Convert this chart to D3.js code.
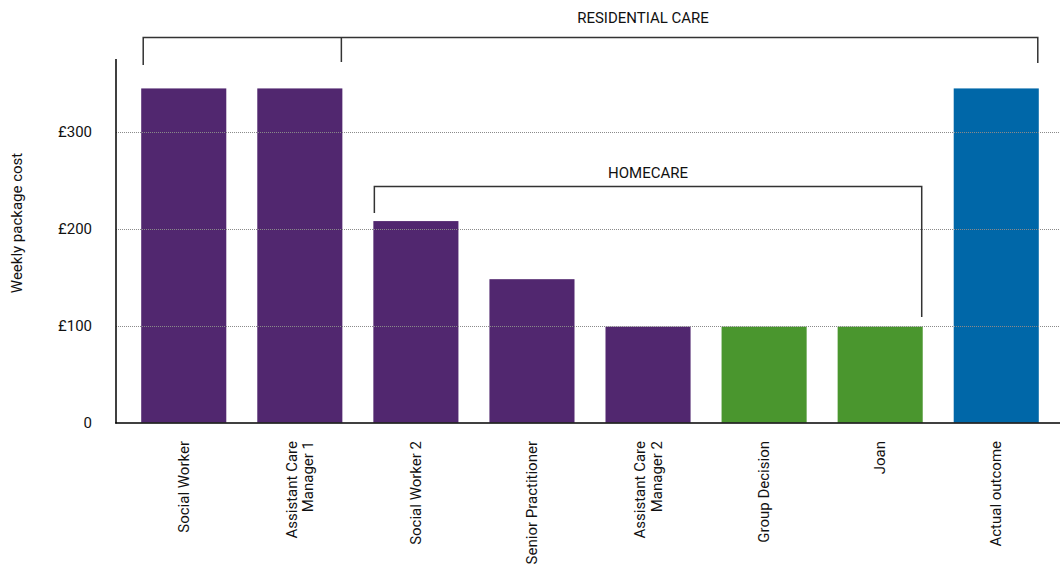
<!DOCTYPE html>
<html>
<head>
<meta charset="utf-8">
<script src="https://cdn.jsdelivr.net/npm/d3@7"></script>
<style>
  body { margin: 0; background: #fff; }
  svg text { font-family: Roboto, "Noto Sans", sans-serif; fill: #111; }
</style>
</head>
<body>
<div id="chart"></div>
<script>
// data
const categories = ["Social Worker", "Assistant Care Manager 1", "Social Worker 2", "Senior Practitioner",
  "Assistant Care Manager 2", "Group Decision", "Joan", "Actual outcome"];
const labelLines = [["Social Worker"], ["Assistant Care", "Manager 1"], ["Social Worker 2"], ["Senior Practitioner"],
  ["Assistant Care", "Manager 2"], ["Group Decision"], ["Joan"], ["Actual outcome"]];
const values = [345, 345, 208, 148, 99, 99, 99, 345];
const groups = ["staff", "staff", "staff", "staff", "staff", "family", "family", "actual"];
const yTicks = [0, 100, 200, 300];

const W = 1060, H = 567;
const svg = d3.select("#chart").append("svg").attr("width", W).attr("height", H);

const x = d3.scaleBand().domain(categories).range([118, 1062]).paddingInner(0.267).paddingOuter(0.2);
const y = d3.scaleLinear().domain([0, 300]).range([422.5, 132]);
const color = d3.scaleOrdinal().domain(["staff", "family", "actual"]).range(["#51276f", "#4a962e", "#0067a8"]);

// bars
svg.append("g").selectAll("rect")
  .data(categories)
  .enter().append("rect")
  .attr("x", d => x(d))
  .attr("width", x.bandwidth())
  .attr("y", (d, i) => y(values[i]))
  .attr("height", (d, i) => y(0) - y(values[i]))
  .attr("fill", (d, i) => color(groups[i]));

// gridlines (drawn over bars)
svg.append("g").selectAll("line")
  .data(yTicks.filter(t => t > 0))
  .enter().append("line")
  .attr("x1", 116).attr("x2", W)
  .attr("y1", d => Math.round(y(d)) + 0.5).attr("y2", d => Math.round(y(d)) + 0.5)
  .attr("stroke", "#8a8a8a").attr("stroke-width", 1).attr("stroke-dasharray", "1,1");

// y axis
const yAxis = svg.append("g")
  .attr("transform", "translate(116,0)")
  .call(d3.axisLeft(y).tickValues(yTicks).tickSize(0).tickPadding(24)
    .tickFormat(d => d === 0 ? "0" : "£" + d));
yAxis.select(".domain").remove();
yAxis.selectAll("text").style("font-size", "15px").style("font-family", "Roboto, sans-serif").attr("fill", "#111");

svg.append("line").attr("x1", 116).attr("x2", 116).attr("y1", 59).attr("y2", 423.5)
  .attr("stroke", "#000").attr("stroke-width", 1.5);
svg.append("line").attr("x1", 115.25).attr("x2", W).attr("y1", 423).attr("y2", 423)
  .attr("stroke", "#000").attr("stroke-width", 1.5);

svg.append("text")
  .attr("transform", "translate(22,223) rotate(-90)")
  .attr("text-anchor", "middle")
  .style("font-size", "15px")
  .text("Weekly package cost");

// x labels
const xl = svg.append("g").selectAll("g")
  .data(categories)
  .enter().append("g")
  .attr("transform", d => `translate(${x(d) + x.bandwidth() / 2},441) rotate(-90)`);
xl.each(function (d, i) {
  const lines = labelLines[i];
  const t = d3.select(this).append("text")
    .attr("text-anchor", "end")
    .style("font-size", "15px");
  lines.forEach((ln, j) => {
    t.append("tspan")
      .attr("x", 0)
      .attr("y", (j - (lines.length - 1) / 2) * 16.5)
      .attr("dy", "0.35em")
      .text(ln);
  });
});

// brackets
function bracket(x1, x2, yTop, leftEnd, rightEnd, mids, label, labelX, labelY) {
  const g = svg.append("g").attr("fill", "none").attr("stroke", "#333").attr("stroke-width", 1.5);
  g.append("path").attr("d", `M${x1},${leftEnd}V${yTop}H${x2}V${rightEnd}`);
  mids.forEach(m => g.append("line").attr("x1", m[0]).attr("x2", m[0]).attr("y1", yTop).attr("y2", m[1]));
  svg.append("text").attr("x", labelX).attr("y", labelY).attr("text-anchor", "middle")
    .attr("dy", "0.35em").style("font-size", "15px").text(label);
}
bracket(x(categories[0]) + 2, x(categories[7]) + x.bandwidth() - 1, 37.5, 65, 63,
  [[x(categories[1]) + x.bandwidth() - 1, 62]], "RESIDENTIAL CARE", 643, 18);
bracket(x(categories[2]) + 1, x(categories[6]) + x.bandwidth() - 1, 186.5, 213, 317,
  [], "HOMECARE", 648, 173);
</script>
</body>
</html>
